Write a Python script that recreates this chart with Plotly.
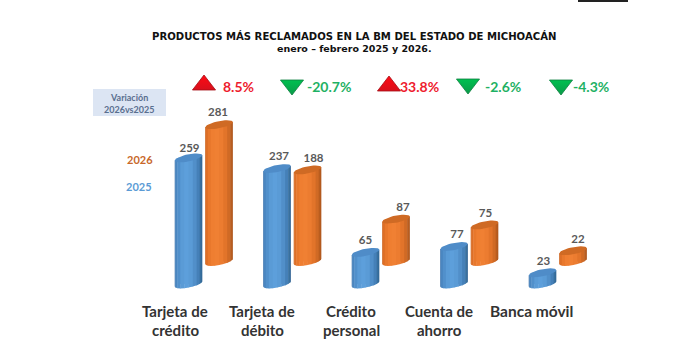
import numpy as np
import plotly.graph_objects as go

categories = ["Tarjeta de<br>crédito", "Tarjeta de<br>débito", "Crédito<br>personal", "Cuenta de<br>ahorro", "Banca móvil"]
values_2025 = [259, 237, 65, 77, 23]
values_2026 = [281, 188, 87, 75, 22]
variation = ["8.5%", "-20.7%", "33.8%", "-2.6%", "-4.3%"]

# layout constants (pixels of the 696x360 page)
W, H = 696, 360
PX_X0, PX_DX = 188.5, 88.5      # first blue bar centre, spacing
PX_Y0, PX_DY = 284.0, 0.487     # blue base, pixels per unit
OFF_2026_X, OFF_2026_Y = 30.5, 22.5
HALF_W, TILT, SEMI = 13.8, 2.6, 3.6

def ux(px): return (px - PX_X0) / PX_DX
def uy(px): return (PX_Y0 - px) / PX_DY

xr = [ux(0), ux(W)]
yr = [uy(H), uy(0)]
a = HALF_W / PX_DX
tilt = TILT / PX_DY
semi = SEMI / PX_DY
xo = OFF_2026_X / PX_DX
yo = OFF_2026_Y / PX_DY

shades_blue = ["#3f76ad", "#4a86c0", "#5190cb", "#5a9bd6", "#5d9fdb", "#5a9bd6", "#518fc9", "#4580b8", "#38709f", "#2e6090"]
shades_orange = ["#cc6420", "#dd6f27", "#e8782c", "#ef7e31", "#f08033", "#ec7c30", "#e2742a", "#d06a25", "#b95d1f", "#a9531b"]

fig = go.Figure()
idx = np.arange(len(categories))

def series(name, vals, shades, dx, dy, cap, label_dx, label_dy):
    vals = np.array(vals, float)
    cx = idx + dx
    # real bars underneath the cylinder shading
    fig.add_trace(go.Bar(x=cx, y=vals, base=[dy] * len(vals), width=a * 1.5, name=name,
                         marker=dict(color=shades[4], line=dict(width=0)),
                         hoverinfo="skip", showlegend=False))
    n = len(shades)
    edges = -np.cos(np.linspace(0, np.pi, n + 1))
    for k in range(n):
        us = np.linspace(edges[k], min(edges[k + 1] + 0.03, 1), 4)
        xs, ys = [], []
        for c, v in zip(cx, vals):
            top = dy + v + tilt * us
            bot = dy + tilt * us - semi * np.sqrt(np.clip(1 - us**2, 0, 1))
            xs += list(c + a * us) + list(c + a * us[::-1]) + [None]
            ys += list(top) + list(bot[::-1]) + [None]
        fig.add_trace(go.Scatter(x=xs, y=ys, mode="lines", fill="toself", fillcolor=shades[k],
                                 line=dict(width=0), hoverinfo="skip", showlegend=False))
    t = np.linspace(0, 2 * np.pi, 40)
    xs, ys = [], []
    for c, v in zip(cx, vals):
        xs += list(c + a * np.cos(t)) + [None]
        ys += list(dy + v + tilt * np.cos(t) + semi * np.sin(t)) + [None]
    fig.add_trace(go.Scatter(x=xs, y=ys, mode="lines", fill="toself", fillcolor=cap,
                             line=dict(width=0), hoverinfo="skip", showlegend=False))
    fig.add_trace(go.Scatter(x=cx + np.array(label_dx) / PX_DX,
                             y=dy + vals + np.array(label_dy) / PX_DY,
                             mode="text", text=[str(int(v)) for v in vals],
                             textposition="middle center",
                             textfont=dict(family="Lato", size=11.5, color="#595959", weight=700),
                             hoverinfo="skip", showlegend=False))

series("2025", values_2025, shades_blue, 0, 0, "#4f8cc8", [1, 2, 0, 3, 1], [9, 11, 11, 11, 11])
series("2026", values_2026, shades_orange, xo, yo, "#cf6a24", [-1, 6, 7, 1, 5], [12, 11, 11, 11, 11])

def ann(px, py, text, size, color, font="Lato"):
    fig.add_annotation(x=px / W, y=1 - py / H, xref="paper", yref="paper", text=text, showarrow=False,
                       xanchor="center", yanchor="middle", align="center",
                       font=dict(family=font, size=size, color=color, weight=700))

ann(354, 36, "PRODUCTOS MÁS RECLAMADOS EN LA BM DEL ESTADO DE MICHOACÁN", 10.1, "#111111", "DejaVu Sans")
ann(354, 49, "enero – febrero 2025 y 2026.", 9.5, "#111111", "DejaVu Sans")

# Variation box
fig.add_shape(type="rect", xref="paper", yref="paper", x0=93 / W, x1=166 / W, y0=1 - 116 / H, y1=1 - 89 / H,
              fillcolor="#dce5f3", line=dict(width=0), layer="below")
ann(129, 98, "Variación", 9, "#5a6f8f")
ann(129, 109, "2026vs2025", 9, "#5a6f8f")
ann(140, 159, "2026", 11, "#c8672a")
ann(139, 186, "2025", 11, "#5b9bd5")

# small dark smudge on top edge
fig.add_shape(type="rect", xref="paper", yref="paper", x0=578 / W, x1=628 / W, y0=1 - 2 / H, y1=1,
              fillcolor="#222222", line=dict(width=0))

# variation markers
tri_px = [(204, 85), (292, 85), (389, 86), (468, 84), (561, 85)]
txt_px = [238, 329, 419, 503, 591]
for (tx, ty), lx, lab in zip(tri_px, txt_px, variation):
    up = not lab.startswith("-")
    col = "#ff0a14" if up else "#00c050"
    edge = "#d8101c" if up else "#0a9a48"
    fig.add_trace(go.Scatter(x=[ux(tx)], y=[uy(ty)], mode="markers", hoverinfo="skip", showlegend=False,
                             marker=dict(symbol="triangle-up" if up else "triangle-down", size=20, color=col,
                                         gradient=dict(type="vertical", color=edge),
                                         line=dict(color="#a50c14" if up else "#0d7f3f", width=0.8))))
    ann(lx, 86.5, lab, 14, "#ee1c2e" if up else "#1fb164")

label_px = [175, 262, 351, 439, 531]
for px, c in zip(label_px, categories):
    parts = c.split("<br>")
    if len(parts) == 1:
        ann(px, 311, parts[0], 15.5, "#333333")
    else:
        ann(px, 311, parts[0], 15, "#333333")
        ann(px, 329.5, parts[1], 15, "#333333")

fig.update_layout(width=W, height=H, margin=dict(l=0, r=0, t=0, b=0), autosize=False,
                  paper_bgcolor="white", plot_bgcolor="white", showlegend=False, barmode="overlay",
                  xaxis=dict(range=xr, visible=False, fixedrange=True),
                  yaxis=dict(range=yr, visible=False, fixedrange=True))
fig.write_html("out.html", config={"displayModeBar": False},
               post_script="document.body.style.margin='0';document.documentElement.style.overflow='hidden';")
